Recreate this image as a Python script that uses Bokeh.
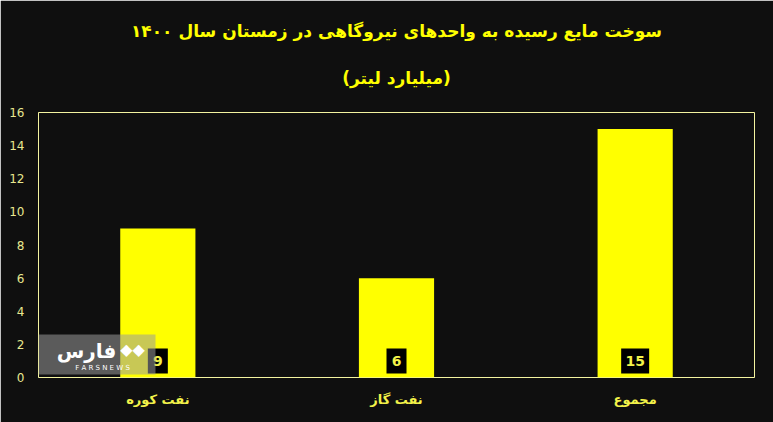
from bokeh.plotting import figure
from bokeh.models import ColumnDataSource, LabelSet, Label, FixedTicker, BoxAnnotation, Title
from bokeh.core.properties import value
from bokeh.embed import file_html
from bokeh.resources import INLINE

categories = ["نفت کوره", "نفت گاز", "مجموع"]
values = [9, 6, 15]
y_ticks = [0, 2, 4, 6, 8, 10, 12, 14, 16]
title_line1 = "سوخت مایع رسیده به واحدهای نیروگاهی در زمستان سال ۱۴۰۰"
title_line2 = "(میلیارد لیتر)"

BG = "#0f0f0f"
YEL = "#ffff00"
TXT = "#f2f24a"

labs = [str(v) for v in values]
src = ColumnDataSource(dict(cat=categories, val=values, lab=labs,
                            ly=[1.0] * len(values),
                            bw=[12 + 8 * len(s) for s in labs]))

p = figure(x_range=categories, y_range=(0, 16), width=773, height=422,
           output_backend="svg", toolbar_location=None, title=None,
           min_border_left=38, min_border_right=19, min_border_top=112,
           min_border_bottom=45)
p.background_fill_color = BG
p.border_fill_color = BG
p.outline_line_color = "#f4f4a0"
p.outline_line_width = 1
p.grid.visible = False

p.vbar(x="cat", top="val", width=0.315, source=src, color=YEL, line_color=None)
p.rect(x="cat", y="ly", width="bw", height=25, width_units="screen",
       height_units="screen", source=src, fill_color="#000000", line_color=None)

labels = LabelSet(x="cat", y="ly", text="lab", source=src,
                  text_align="center", text_baseline="middle",
                  text_color=TXT, text_font=value("DejaVu Sans"), text_font_size="14px",
                  text_font_style="bold")
p.add_layout(labels)

p.yaxis.ticker = FixedTicker(ticks=y_ticks)
p.yaxis.axis_line_color = None
p.yaxis.major_tick_line_color = None
p.yaxis.minor_tick_line_color = None
p.yaxis.major_label_text_color = "#e8e890"
p.yaxis.major_label_text_font = "DejaVu Sans"
p.yaxis.major_label_text_font_size = "12px"
p.yaxis.major_label_standoff = 8

p.xaxis.axis_line_color = None
p.xaxis.major_tick_line_color = None
p.xaxis.major_label_text_color = TXT
p.xaxis.major_label_text_font = "DejaVu Sans"
p.xaxis.major_label_text_font_style = "bold"
p.xaxis.major_label_text_font_size = "13px"
p.xaxis.major_label_standoff = 8

# watermark (inside frame part)
wm = BoxAnnotation(left=0, right=117, bottom=3, top=43,
                   left_units="screen", right_units="screen",
                   bottom_units="screen", top_units="screen",
                   fill_color="#9a9a9a", fill_alpha=0.55, line_color=None)
p.add_layout(wm)
p.add_layout(Label(x=48, y=27, x_units="screen", y_units="screen", text="فارس",
                   text_color="#ffffff", text_font="DejaVu Sans", text_font_style="bold",
                   text_font_size="20px", text_align="center", text_baseline="middle"))
p.add_layout(Label(x=94, y=28, x_units="screen", y_units="screen", text="◆◆",
                   text_color="#ffffff", text_font="DejaVu Sans",
                   text_font_size="16px", text_align="center", text_baseline="middle"))
p.add_layout(Label(x=64, y=10, x_units="screen", y_units="screen", text="F A R S N E W S",
                   text_color="#ffffff", text_font="DejaVu Sans",
                   text_font_size="7px", text_align="center", text_baseline="middle"))

t2 = Title(text=title_line2, align="center", text_color=YEL, text_font="DejaVu Sans",
           text_font_style="bold", text_font_size="17px", standoff=50)
t1 = Title(text=title_line1, align="center", text_color=YEL, text_font="DejaVu Sans",
           text_font_style="bold", text_font_size="17px", standoff=0)
p.add_layout(t2, "above")
p.add_layout(t1, "above")

open("out.html", "w").write(file_html(p, INLINE))
